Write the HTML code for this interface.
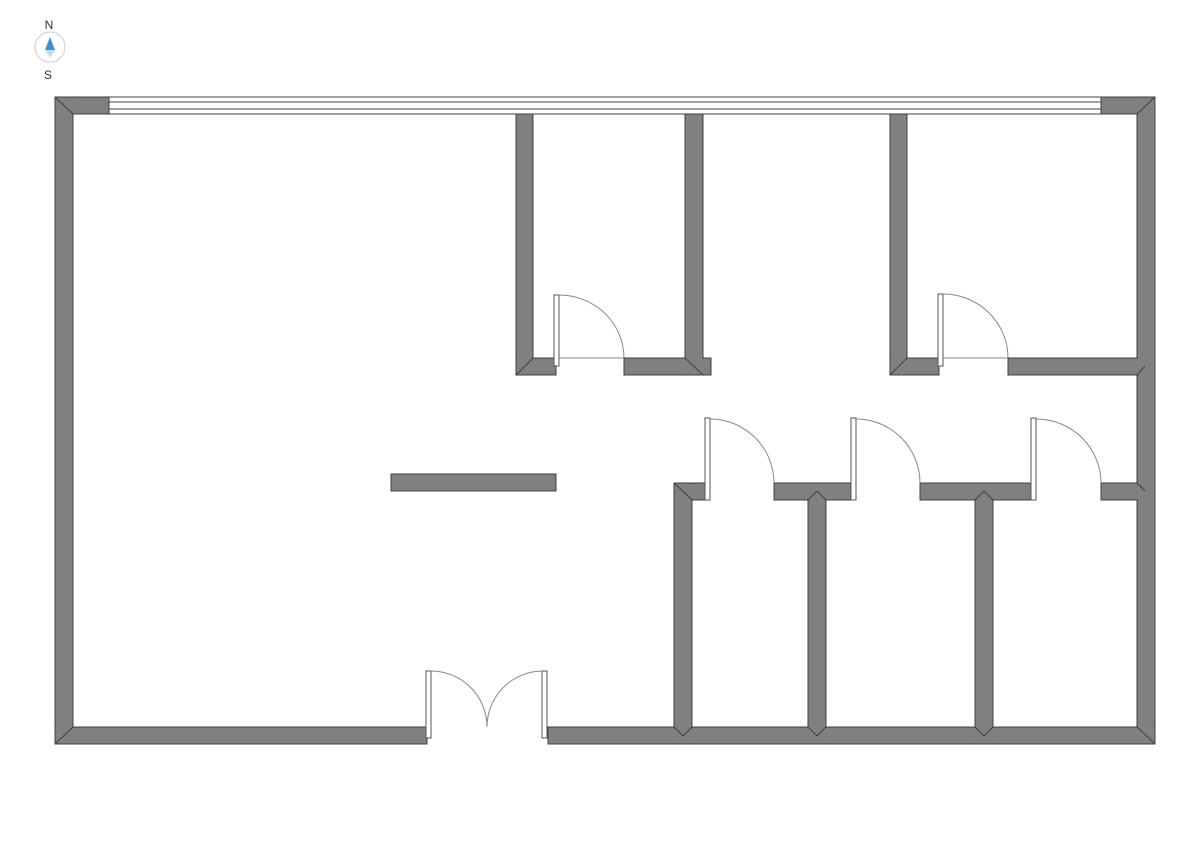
<!DOCTYPE html>
<html><head><style>body{margin:0;background:#fff}svg{display:block}</style></head><body>
<svg width="1191" height="842" viewBox="0 0 1191 842" xmlns="http://www.w3.org/2000/svg" font-family="Liberation Sans, sans-serif">
<defs>
<g id="w">
<rect x="55" y="97" width="54" height="17"/>
<rect x="1101" y="97" width="54" height="17"/>
<rect x="55" y="97" width="18" height="647"/>
<rect x="1137" y="97" width="18" height="647"/>
<rect x="55" y="727" width="372" height="17"/>
<rect x="548" y="727" width="607" height="17"/>
<rect x="516" y="114" width="17" height="261"/>
<rect x="516" y="358" width="40" height="17"/>
<rect x="624" y="358" width="87" height="17"/>
<rect x="685" y="114" width="18" height="261"/>
<rect x="890" y="114" width="17" height="261"/>
<rect x="890" y="358" width="49" height="17"/>
<rect x="1008" y="358" width="137" height="17"/>
<rect x="391" y="474" width="165" height="17"/>
<rect x="674" y="483" width="33" height="17"/>
<rect x="774" y="483" width="78" height="17"/>
<rect x="920" y="483" width="112" height="17"/>
<rect x="1101" y="483" width="44" height="17"/>
<rect x="674" y="483" width="18" height="261"/>
<rect x="808" y="491" width="18" height="253"/>
<rect x="975" y="491" width="18" height="253"/>
</g>
</defs>
<rect width="1191" height="842" fill="#fff"/>
<text x="49" y="29" font-size="12" text-anchor="middle" fill="#333">N</text>
<circle cx="50" cy="47" r="15" fill="none" stroke="#ccd" stroke-width="1"/>
<polygon points="50,37 45,50 55,50" fill="#3d8fd0"/>
<polygon points="50,58 45,50 55,50" fill="#c8dcec"/>
<text x="48" y="79" font-size="12" text-anchor="middle" fill="#333">S</text>
<use href="#w" fill="#808080" stroke="#404040" stroke-width="1"/>
<use href="#w" fill="#808080" stroke="#808080" stroke-width="0.01" transform="translate(0,0)" style="display:none"/>
<g fill="#808080">
<rect x="56" y="98" width="52" height="15"/><rect x="56" y="98" width="16" height="645"/>
<rect x="1102" y="98" width="52" height="15"/><rect x="1138" y="98" width="16" height="645"/>
<rect x="56" y="728" width="370" height="15"/><rect x="549" y="728" width="605" height="15"/>
<rect x="517" y="115" width="15" height="259"/><rect x="517" y="359" width="38" height="15"/>
<rect x="625" y="359" width="85" height="15"/><rect x="686" y="115" width="16" height="259"/>
<rect x="891" y="115" width="15" height="259"/><rect x="891" y="359" width="47" height="15"/>
<rect x="1009" y="359" width="135" height="15"/><rect x="1138" y="359" width="16" height="15"/>
<rect x="675" y="484" width="31" height="15"/><rect x="775" y="484" width="76" height="15"/>
<rect x="921" y="484" width="110" height="15"/><rect x="1102" y="484" width="42" height="15"/>
<rect x="675" y="484" width="16" height="259"/><rect x="809" y="484" width="16" height="259"/>
<rect x="976" y="484" width="16" height="259"/>
</g>
<g stroke="#404040" stroke-width="1">
<line x1="55" y1="97" x2="73" y2="114"/><line x1="1155" y1="97" x2="1137" y2="114"/>
<line x1="55" y1="744" x2="73" y2="727"/><line x1="1155" y1="744" x2="1137" y2="727"/>
<line x1="516" y1="375" x2="533" y2="358"/><line x1="703" y1="375" x2="685" y2="358"/>
<line x1="890" y1="375" x2="907" y2="358"/><line x1="674" y1="483" x2="692" y2="500"/>
<line x1="1137" y1="375" x2="1145" y2="366"/><line x1="1137" y1="483" x2="1145" y2="491"/>
<line x1="808" y1="500" x2="817" y2="491"/><line x1="826" y1="500" x2="817" y2="491"/>
<line x1="975" y1="500" x2="984" y2="491"/><line x1="993" y1="500" x2="984" y2="491"/>
<line x1="674" y1="727" x2="683" y2="736"/><line x1="692" y1="727" x2="683" y2="736"/>
<line x1="808" y1="727" x2="817" y2="736"/><line x1="826" y1="727" x2="817" y2="736"/>
<line x1="975" y1="727" x2="984" y2="736"/><line x1="993" y1="727" x2="984" y2="736"/>
</g>
<g fill="none" stroke="#404040" stroke-width="1">
<rect x="109" y="97" width="992" height="17"/>
<line x1="109" y1="102" x2="1101" y2="102"/>
<line x1="109" y1="109" x2="1101" y2="109"/>
</g>
<g fill="#fff" stroke="#555" stroke-width="1">
<rect x="426" y="671" width="5" height="67"/>
<rect x="542" y="671" width="5" height="67"/>
<rect x="554" y="295" width="5" height="71"/>
<rect x="938" y="294" width="5" height="72"/>
<rect x="705" y="418" width="5" height="82"/>
<rect x="851" y="418" width="5" height="82"/>
<rect x="1031" y="418" width="5" height="82"/>
</g>
<g fill="none" stroke="#888" stroke-width="1">
<path d="M431,671 A56,56 0 0 1 487,727"/>
<path d="M542,671 A56,56 0 0 0 487,727"/>
<path d="M559,295 A65,63 0 0 1 624,358"/>
<line x1="559" y1="358" x2="624" y2="358"/>
<path d="M943,294 A65,64 0 0 1 1008,358"/>
<line x1="943" y1="358" x2="1008" y2="358"/>
<path d="M710,419 A64,64 0 0 1 774,483"/>
<path d="M856,419 A64,64 0 0 1 920,483"/>
<path d="M1036,419 A65,64 0 0 1 1101,483"/>
</g>
</svg>
</body></html>
